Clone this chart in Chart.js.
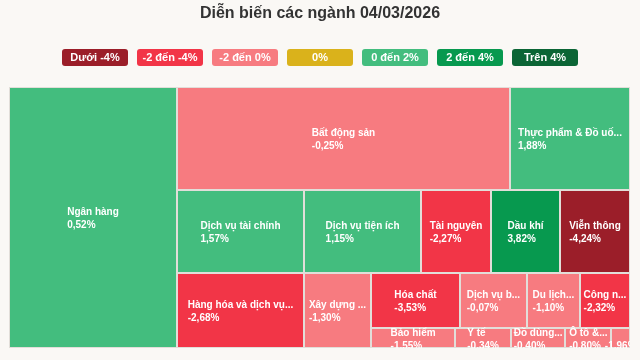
<!DOCTYPE html>
<html lang="vi">
<head>
<meta charset="utf-8">
<title>Diễn biến các ngành</title>
<script src="https://cdn.jsdelivr.net/npm/chart.js@4.4.1/dist/chart.umd.min.js"></script>
<style>
  html, body { margin: 0; padding: 0; background: #faf8f5; }
  body { width: 640px; height: 360px; position: relative; overflow: hidden; font-family: "Liberation Sans", Arial, sans-serif; }
  canvas { position: absolute; left: 0; top: 0; }
  .title { position: absolute; top: 3px; left: 0; width: 640px; text-align: center; font-size: 16px; font-weight: bold; color: #333; line-height: 20px; }
  .legend { position: absolute; top: 49px; left: 62px; display: flex; gap: 9px; }
  .legend span { display: block; width: 66px; height: 17px; line-height: 17px; border-radius: 3px; color: #fff; font-size: 11px; font-weight: bold; text-align: center; }
</style>
</head>
<body>
<canvas id="chart" width="640" height="360"></canvas>
<div class="title">Diễn biến các ngành 04/03/2026</div>
<div class="legend" id="legend"></div>

<script>
// sectors in the order they are laid out
const sectors = [
    'Ngân hàng', 'Bất động sản', 'Thực phẩm & Đồ uống', 'Dịch vụ tài chính',
    'Hàng hóa và dịch vụ công nghiệp', 'Dịch vụ tiện ích', 'Tài nguyên', 'Dầu khí',
    'Viễn thông', 'Xây dựng và Vật liệu', 'Hóa chất', 'Dịch vụ bán lẻ',
    'Du lịch và Giải trí', 'Công nghệ Thông tin', 'Bảo hiểm', 'Y tế',
    'Đồ dùng cá nhân', 'Ô tô & Phụ tùng', 'Truyền thông'
];
// share of market weight (%)
const weights = [27.05, 21.16, 7.63, 6.50, 5.88, 5.99, 3.58, 3.53, 3.58, 3.10, 3.02, 2.27, 1.80, 1.70, 1.04, 0.69, 0.67, 0.57, 0.23];
// % change on the day
const changes = [0.52, -0.25, 1.88, 1.57, -2.68, 1.15, -2.27, 3.82, -4.24, -1.30, -3.53, -0.07, -1.10, -2.32, -1.55, -0.34, -0.40, -0.80, -1.96];

const legendLabels = ['Dưới -4%', '-2 đến -4%', '-2 đến 0%', '0%', '0 đến 2%', '2 đến 4%', 'Trên 4%'];
const legendColors = ['#9b1e29', '#f23547', '#f77b80', '#dab21b', '#43bd7e', '#07994f', '#0b6535'];

function colorFor(v) {
    if (v < -4) return legendColors[0];
    if (v <= -2) return legendColors[1];
    if (v < 0) return legendColors[2];
    if (v === 0) return legendColors[3];
    if (v < 2) return legendColors[4];
    if (v <= 4) return legendColors[5];
    return legendColors[6];
}

const fmtPct = (v) => v.toFixed(2).replace('.', ',') + '%';

function shortName(ctx, name, w) {
    if (ctx.measureText(name).width <= w - 14) return name;
    const maxChars = Math.floor((w - 8) / 6.25);
    if (maxChars < 2) return '';
    return name.slice(0, maxChars) + '...';
}

// squarified layout, direction flips after every group
function squarify(values, x, y, w, h) {
    const total = values.reduce((s, v) => s + v, 0);
    const areas = values.map((v) => v * w * h / total);
    const rect = { x, y, w, h };
    const out = [];
    let dir = 0; // 0: column on the left, 1: row on top
    let i = 0;
    const aspect = (a, b) => Math.max(a / b, b / a);

    while (i < areas.length) {
        const group = [i];
        let sum = areas[i];
        i++;
        while (i < areas.length) {
            const side = dir === 0 ? rect.h : rect.w;
            const lastArea = areas[group[group.length - 1]];
            const oldT = sum / side;
            const newT = (sum + areas[i]) / side;
            if (aspect(newT, lastArea / newT) > aspect(oldT, lastArea / oldT)) break;
            group.push(i);
            sum += areas[i];
            i++;
        }
        const flush = i >= areas.length;
        if (dir === 0) {
            const t = flush ? rect.w : sum / rect.h;
            let yy = rect.y;
            group.forEach((k) => {
                const hh = areas[k] / t;
                out[k] = { x: rect.x, y: yy, w: t, h: hh };
                yy += hh;
            });
            rect.x += t; rect.w -= t;
        } else {
            const t = flush ? rect.h : sum / rect.w;
            let xx = rect.x;
            group.forEach((k) => {
                const ww = areas[k] / t;
                out[k] = { x: xx, y: rect.y, w: ww, h: t };
                xx += ww;
            });
            rect.y += t; rect.h -= t;
        }
        dir = 1 - dir;
    }
    return out;
}

const treemapPlugin = {
    id: 'treemap',
    afterDatasetsDraw(chart) {
        const { ctx } = chart;
        const xs = chart.scales.x, ys = chart.scales.y;
        const left = xs.getPixelForValue(0), right = xs.getPixelForValue(1);
        const top = ys.getPixelForValue(1), bottom = ys.getPixelForValue(0);
        const cells = squarify(weights, left, top, right - left, bottom - top);

        ctx.save();
        ctx.beginPath();
        ctx.rect(left, top, right - left, bottom - top);
        ctx.clip();

        cells.forEach((c, i) => {
            const x0 = Math.round(c.x), y0 = Math.round(c.y);
            const x1 = Math.round(c.x + c.w), y1 = Math.round(c.y + c.h);
            ctx.fillStyle = colorFor(changes[i]);
            ctx.fillRect(x0, y0, x1 - x0, y1 - y0);
            ctx.strokeStyle = '#e2ded9';
            ctx.lineWidth = 1;
            ctx.strokeRect(x0 + 0.5, y0 + 0.5, x1 - x0 - 1, y1 - y0 - 1);
        });

        ctx.font = 'bold 10px "Liberation Sans", Arial, sans-serif';
        ctx.fillStyle = '#fff';
        ctx.textAlign = 'left';
        ctx.textBaseline = 'middle';
        cells.forEach((c, i) => {
            const name = shortName(ctx, sectors[i], c.w);
            const value = fmtPct(changes[i]);
            const bw = Math.max(ctx.measureText(name).width, ctx.measureText(value).width);
            const tx = c.x + c.w / 2 - bw / 2;
            const cy = c.y + c.h / 2;
            if (name) ctx.fillText(name, tx, cy - 5);
            ctx.fillText(value, tx, cy + 8);
        });
        ctx.restore();
    }
};

document.getElementById('legend').innerHTML = legendLabels
    .map((l, i) => `<span style="background:${legendColors[i]}">${l}</span>`)
    .join('');

new Chart(document.getElementById('chart'), {
    type: 'scatter',
    data: { datasets: [{ label: 'Ngành', data: [] }] },
    options: {
        responsive: false,
        animation: false,
        layout: { padding: { left: 9, right: 10, top: 87, bottom: 12 } },
        scales: {
            x: { type: 'linear', min: 0, max: 1, display: false },
            y: { type: 'linear', min: 0, max: 1, display: false }
        },
        plugins: { legend: { display: false }, tooltip: { enabled: false } }
    },
    plugins: [treemapPlugin]
});
</script>
</body>
</html>
